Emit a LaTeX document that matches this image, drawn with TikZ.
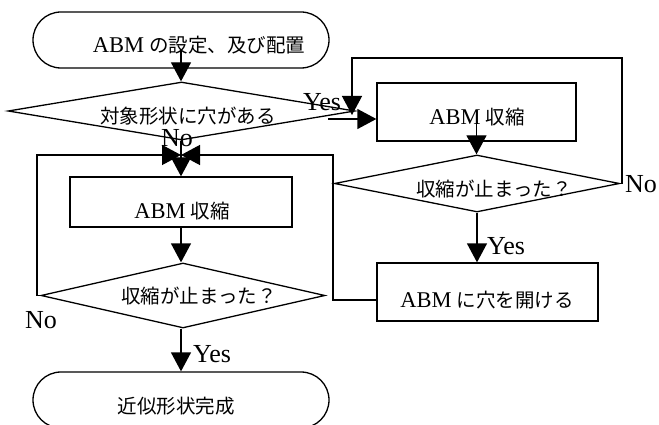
\documentclass[tikz,border=0pt]{standalone}
\usepackage{fontspec}
\setmainfont{Liberation Serif}
\newfontfamily\jpfont{Noto Sans CJK JP}
\newcommand\J[1]{{\jpfont #1}}
\newcommand\Lat[1]{{\fontsize{22.5pt}{24pt}\selectfont #1}}
\usetikzlibrary{shapes.geometric,shapes.misc,arrows.meta}
\begin{document}
\begin{tikzpicture}[x=1pt,y=-1pt,line width=1.3pt,
  arr/.style={-{Triangle[length=19pt,width=20pt]}},
  term/.style={draw,rounded rectangle,minimum width=296pt,minimum height=56pt,inner sep=0pt},
  dec/.style={draw,diamond,inner sep=0pt},
  proc/.style={draw,rectangle,inner sep=0pt},
  txt/.style={font=\fontsize{19.5pt}{22pt}\selectfont,inner sep=0pt},
  lab/.style={font=\fontsize{26pt}{28pt}\selectfont,inner sep=0pt}]
\useasboundingbox (0,0) rectangle (659,425);
% shapes
\node[term] (start) at (181,40) {};
\node[txt] (t1) at (199,45) {\Lat{ABM} \J{の設定、及び配置}};
\node[dec,minimum width=347pt,minimum height=58pt] (d1) at (181.5,111) {};
\node[txt] (t2) at (188,116) {\J{対象形状に穴がある}};
\node[proc,minimum width=199pt,minimum height=58pt] (rbox) at (476.5,112) {};
\node[txt] (t3) at (477,117) {\Lat{ABM} \J{収縮}};
\node[dec,minimum width=285pt,minimum height=57pt] (rd) at (477,183.5) {};
\node[txt] (t4) at (494,189) {\J{収縮が止まった？}};
\node[proc,minimum width=221pt,minimum height=58pt] (hbox) at (487.5,292) {};
\node[txt] (t5) at (487,300) {\Lat{ABM} \J{に穴を開ける}};
\node[proc,minimum width=222pt,minimum height=50pt] (lbox) at (181,202) {};
\node[txt] (t6) at (182,211) {\Lat{ABM} \J{収縮}};
\node[dec,minimum width=284pt,minimum height=65pt] (ld) at (183,295.5) {};
\node[txt] (t7) at (199,296) {\J{収縮が止まった？}};
\node[term] (end) at (181,400) {};
\node[txt] (t8) at (176,406) {\J{近似形状完成}};
% labels
\node[lab] (y1) at (322,102) {Yes};
\node[lab] (n1) at (177,138) {No};
\node[lab] (n2) at (641,184) {No};
\node[lab] (y2) at (506,246) {Yes};
\node[lab] (n3) at (41,320) {No};
\node[lab] (y3) at (212,354) {Yes};
% connectors
\coordinate (ys) at (328,119);
\coordinate (rl) at (352,115);
\coordinate (m) at (181,155);
\coordinate (h1) at (333,300);
\draw[arr] ([yshift=-10pt]start.center) -- (start.center |- d1.north);
\draw[arr] (ys) -- (ys -| rbox.west);
\draw[arr] (rd.east) -- (622,183.5) -- (622,58) -- (352,58) -- (rl);
\draw[arr] ([yshift=-10pt]rbox.center) -- (rbox.center |- rd.north);
\draw[arr] (rd.south) -- (rd.south |- hbox.north);
\draw[arr] (hbox.west |- h1) -- (h1) -- (333,155) -- (m);
\draw[arr] (ld.west) -- (37,295.5) -- (37,155) -- (m);
\draw[arr] (d1.south -| m) -- (lbox.north);
\draw[arr] (lbox.south) -- (lbox.south |- ld.north);
\draw[arr] (ld.south -| end.north) -- (end.north);
\end{tikzpicture}
\end{document}
